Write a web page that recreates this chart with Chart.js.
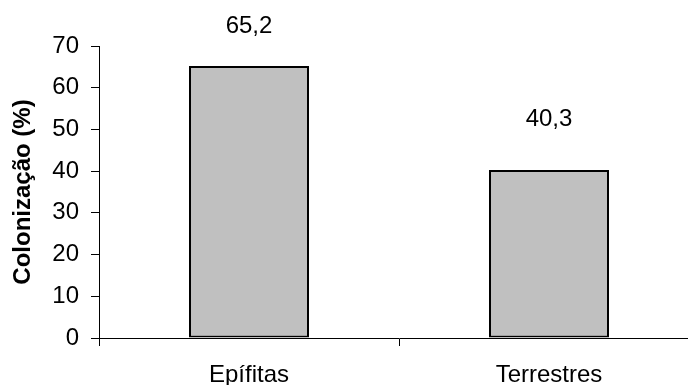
<!DOCTYPE html>
<html>
<head>
<meta charset="utf-8">
<script src="https://cdn.jsdelivr.net/npm/chart.js@4/dist/chart.umd.min.js"></script>
<style>
  html, body { margin: 0; padding: 0; background: #fff; overflow: hidden; }
  #wrap { width: 688px; height: 385px; overflow: hidden; position: relative; }
  #box { width: 712px; height: 385px; position: absolute; left: 0; top: 0; }
</style>
</head>
<body>
<div id="wrap"><div id="box"><canvas id="c"></canvas></div></div>
<script>
// Mycorrhizal colonization by growth habit
const categories = ['Epífitas', 'Terrestres'];
const colonizacao = [65.2, 40.3];
const yTicks = [0, 10, 20, 30, 40, 50, 60, 70];
const yTitle = 'Colonização (%)';

const FONT = "'Liberation Sans', Arial, Helvetica, sans-serif";

// Value labels above each bar, decimal comma
const valueLabels = {
  id: 'valueLabels',
  afterDatasetsDraw(chart) {
    const ctx = chart.ctx;
    const meta = chart.getDatasetMeta(0);
    ctx.save();
    ctx.font = '24px ' + FONT;
    ctx.fillStyle = '#000';
    ctx.textAlign = 'center';
    ctx.textBaseline = 'middle';
    meta.data.forEach((bar, i) => {
      const v = chart.data.datasets[0].data[i];
      const txt = v.toFixed(1).replace('.', ',');
      const y = Math.max(bar.y - 51, 26);
      ctx.fillText(txt, bar.x, y);
    });
    ctx.restore();
  }
};

new Chart(document.getElementById('c'), {
  type: 'bar',
  data: {
    labels: categories,
    datasets: [{
      data: colonizacao,
      backgroundColor: '#c0c0c0',
      borderColor: '#000',
      borderWidth: 2,
      borderSkipped: false,
      categoryPercentage: 1.0,
      barPercentage: 0.4
    }]
  },
  options: {
    responsive: true,
    maintainAspectRatio: false,
    animation: false,
    layout: { padding: { top: 46, right: 13, bottom: 0, left: 0 } },
    plugins: {
      legend: { display: false },
      tooltip: { enabled: false }
    },
    scales: {
      x: {
        offset: true,
        grid: {
          offset: true,
          drawOnChartArea: false,
          drawTicks: true,
          tickLength: 8,
          color: '#000'
        },
        border: { color: '#000', width: 1 },
        ticks: {
          color: '#000',
          font: { family: FONT, size: 24 },
          padding: 15,
          maxRotation: 0
        },
        afterFit(scale) { scale.height = 47; }
      },
      y: {
        min: 0,
        max: 70,
        afterBuildTicks(scale) { scale.ticks = yTicks.map(v => ({ value: v })); },
        grid: {
          drawOnChartArea: false,
          drawTicks: true,
          tickLength: 8,
          color: '#000'
        },
        border: { color: '#000', width: 1 },
        ticks: {
          color: '#000',
          font: { family: FONT, size: 24 },
          padding: 12
        },
        title: {
          display: true,
          text: yTitle,
          color: '#000',
          font: { family: FONT, size: 24, weight: 'bold', lineHeight: 1.2 },
          padding: { top: 9, bottom: 0 }
        },
        afterFit(scale) { scale.width = 99; }
      }
    }
  },
  plugins: [valueLabels]
});
</script>
</body>
</html>
